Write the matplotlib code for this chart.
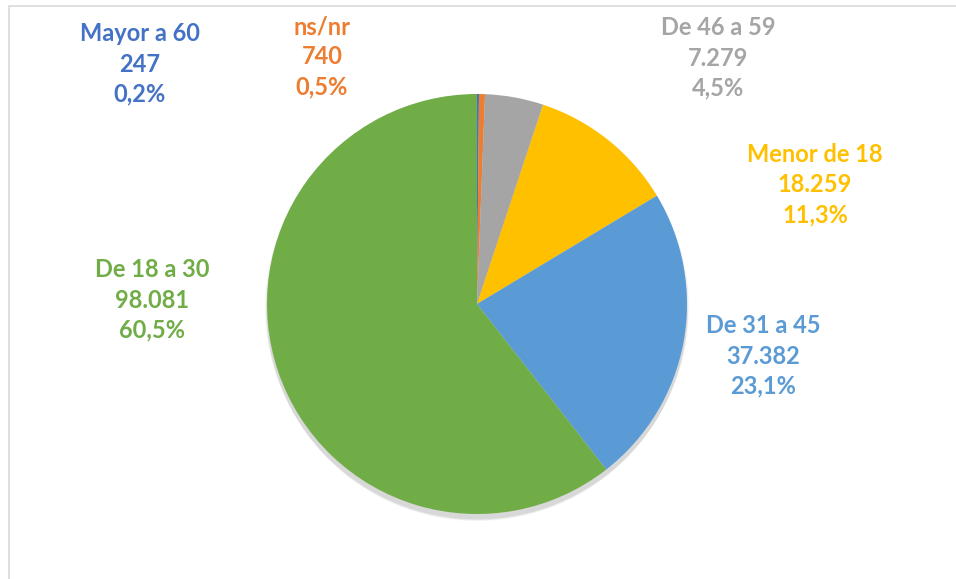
import matplotlib.pyplot as plt
from matplotlib.patches import Circle, Rectangle

# --- Data ---
categories = ["Mayor a 60", "ns/nr", "De 46 a 59", "Menor de 18", "De 31 a 45", "De 18 a 30"]
counts = [247, 740, 7279, 18259, 37382, 98081]
percent_labels = ["0,2%", "0,5%", "4,5%", "11,3%", "23,1%", "60,5%"]
count_labels = ["247", "740", "7.279", "18.259", "37.382", "98.081"]

COLORS = ["#4472C4", "#ED7D31", "#A5A5A5", "#FFC000", "#5B9BD5", "#70AD47"]

# label anchor points (pixels from top-left of the image)
LABEL_POS = [(140, 64), (322, 57), (718, 58), (815, 185), (763, 356), (152, 300)]

W, H = 956, 579
CX, CY, R = 477, 304, 210

plt.rcParams.update({
    "font.family": ["Lato", "DejaVu Sans"],
    "font.weight": "bold",
})

fig = plt.figure(figsize=(W / 100, H / 100), dpi=100)
ax = fig.add_axes([0, 0, 1, 1])

# chart border (only left/top visible in the crop)
ax.add_patch(Rectangle((9.5, -10), W + 20, H - 5 + 10 - 0.5, fill=False,
                       edgecolor="#D9D9D9", lw=1.2, zorder=0))

# soft shadow under the pie
for i, a in enumerate([0.03, 0.03, 0.03, 0.03, 0.03]):
    ax.add_patch(Circle((CX, H - CY - 3 - i), R + 2 - i * 0.5, color="black",
                        alpha=a, lw=0, zorder=1))

ax.pie(counts, colors=COLORS, startangle=90, counterclock=False,
       center=(CX, H - CY), radius=R, frame=True,
       wedgeprops=dict(linewidth=0, zorder=2))
ax.set_xlim(0, W)
ax.set_ylim(0, H)
ax.set_aspect("equal")
ax.axis("off")

for cat, cnt, pct, col, (x, y) in zip(categories, count_labels, percent_labels,
                                      COLORS, LABEL_POS):
    ax.text(x, H - y, f"{cat}\n{cnt}\n{pct}", color=col, fontsize=17,
            fontweight="bold", ha="center", va="center", linespacing=1.38,
            zorder=5)

fig.savefig("out.png", dpi=100, facecolor="white")
